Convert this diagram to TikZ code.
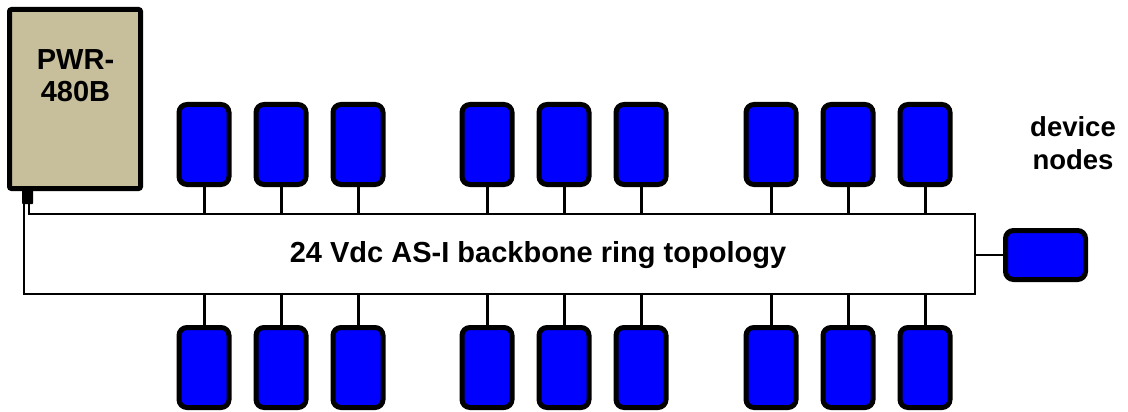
\documentclass[tikz,border=0pt]{standalone}
\usepackage{fontspec}
\setmainfont{Liberation Sans}
\usepackage{tikz}

\definecolor{pwrtan}{RGB}{199,190,155}
\definecolor{devblue}{RGB}{0,0,255}

\tikzset{
  device/.style={draw, line width=5pt, fill=devblue, rounded corners=8pt,
    minimum width=50pt, minimum height=80pt, inner sep=0pt},
  supply/.style={draw, line width=5pt, fill=pwrtan, rounded corners=2pt,
    minimum width=131pt, minimum height=179pt, inner sep=0pt},
  bus/.style={line width=2pt},
  stub/.style={line width=3pt},
  lbl/.style={font=\fontsize{29}{32}\selectfont\bfseries, align=center, inner sep=0pt}
}

\begin{document}
\begin{tikzpicture}[x=1pt,y=-1pt]
  \useasboundingbox (0,0) rectangle (1128,412);
  % power supply and its plug
  \node[supply] (pwr) at (75,99) {};
  \node[lbl] (pwrlabel) at (75.5,76) {PWR-\\480B};
  \node[fill=black, rounded corners=1pt, minimum width=11pt, minimum height=15pt,
    inner sep=0pt, anchor=north west] (plug) at (22,189) {};
  % backbone ring
  \coordinate (ringsw) at (23.7,294);
  \coordinate (ringne) at (975,214);
  \draw[bus] (plug.south -| ringsw) -- (ringsw) -| (ringne) -| ([xshift=1pt]plug.south);
  \node[lbl, anchor=base] (ringlabel) at (538,262) {24 Vdc AS-I backbone ring topology};
  % device nodes above and below the ring
  \foreach \n/\x in {1/204,2/281,3/358,4/487,5/564,6/641,7/771,8/848,9/925} {
    \node[device] (top\n) at (\x,144.5) {};
    \node[device] (bot\n) at (\x,367.5) {};
    \draw[stub] (top\n.south) -- (top\n.south |- ringne);
    \draw[stub] (bot\n.north) -- (bot\n.north |- ringsw);
  }
  % device on the right side
  \node[device, minimum width=80pt, minimum height=49pt] (side) at (1045.5,255) {};
  \draw[bus] (side.west) -- (side.west -| ringne);
  \node[lbl, font=\fontsize{27.5}{33}\selectfont\bfseries] (devlabel) at (1073,143) {device\\nodes};
\end{tikzpicture}
\end{document}
